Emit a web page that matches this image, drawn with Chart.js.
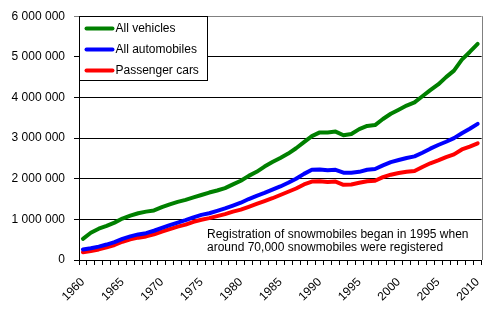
<!DOCTYPE html>
<html>
<head>
<meta charset="utf-8">
<script src="https://cdn.jsdelivr.net/npm/chart.js@4"></script>
<style>
  html, body { margin: 0; padding: 0; background: #fff; }
  #wrap { width: 498px; height: 322px; position: relative; }
</style>
</head>
<body>
<div id="wrap"><canvas id="chart"></canvas></div>
<script>
// Data (in units of vehicles)
const years = [];
for (let y = 1960; y <= 2010; y++) years.push(String(y));

const allVehicles = [
  0.52, 0.67, 0.77, 0.84, 0.92, 1.02, 1.09, 1.15, 1.19, 1.22,
  1.30, 1.37, 1.43, 1.48, 1.54, 1.60, 1.66, 1.71, 1.77, 1.86,
  1.95, 2.07, 2.17, 2.30, 2.41, 2.51, 2.62, 2.75, 2.90, 3.05,
  3.14, 3.14, 3.16, 3.07, 3.10, 3.22, 3.30, 3.32, 3.47, 3.60,
  3.70, 3.80, 3.88, 4.03, 4.18, 4.32, 4.50, 4.66, 4.93, 5.12, 5.32
].map(v => Math.round(v * 1e6));

const allAutomobiles = [
  0.26, 0.29, 0.33, 0.38, 0.44, 0.52, 0.58, 0.63, 0.66, 0.72,
  0.79, 0.86, 0.92, 0.98, 1.05, 1.11, 1.15, 1.21, 1.27, 1.34,
  1.41, 1.50, 1.58, 1.65, 1.73, 1.81, 1.90, 2.00, 2.12, 2.22,
  2.23, 2.21, 2.22, 2.15, 2.15, 2.17, 2.22, 2.24, 2.33, 2.41,
  2.46, 2.51, 2.55, 2.64, 2.74, 2.83, 2.91, 3.00, 3.12, 3.23, 3.35
].map(v => Math.round(v * 1e6));

const passengerCars = [
  0.19, 0.22, 0.26, 0.31, 0.37, 0.45, 0.51, 0.55, 0.58, 0.63,
  0.70, 0.76, 0.82, 0.87, 0.94, 0.99, 1.03, 1.08, 1.13, 1.19,
  1.24, 1.31, 1.38, 1.45, 1.52, 1.60, 1.68, 1.76, 1.86, 1.93,
  1.94, 1.92, 1.93, 1.85, 1.86, 1.90, 1.94, 1.95, 2.04, 2.10,
  2.14, 2.17, 2.19, 2.29, 2.38, 2.45, 2.53, 2.60, 2.72, 2.79, 2.87
].map(v => Math.round(v * 1e6));

const seriesNames = ['All vehicles', 'All automobiles', 'Passenger cars'];
const seriesColors = ['#008000', '#0000ff', '#ff0000'];
const noteLines = [
  'Registration of snowmobiles began in 1995 when',
  'around 70,000 snowmobiles were registered'
];

const FONT = 'Arial, "Liberation Sans", sans-serif';

function spaced(v) {
  return String(v).replace(/\B(?=(\d{3})+(?!\d))/g, ' ');
}

// Legend box inside the plot, right border and the note
const extras = {
  id: 'extras',
  afterDatasetsDraw(chart) {
    const ctx = chart.ctx;
    const a = chart.chartArea;
    ctx.save();

    // right border of the plot area (grey)
    ctx.strokeStyle = '#808080';
    ctx.lineWidth = 1;
    ctx.beginPath();
    ctx.moveTo(Math.round(a.right) + 0.5, a.top);
    ctx.lineTo(Math.round(a.right) + 0.5, a.bottom);
    ctx.stroke();

    // legend
    const lx = Math.round(a.left) + 0.5, ly = Math.round(a.top) + 0.5;
    ctx.fillStyle = '#fff';
    ctx.fillRect(lx, ly, 128, 64);
    ctx.strokeStyle = '#000';
    ctx.strokeRect(lx, ly, 128, 64);
    ctx.font = '12px ' + FONT;
    ctx.textBaseline = 'middle';
    chart.data.datasets.forEach((ds, i) => {
      const cy = ly + 12 + i * 21;
      ctx.strokeStyle = ds.borderColor;
      ctx.lineWidth = 4;
      ctx.lineCap = 'round';
      ctx.beginPath();
      ctx.moveTo(lx + 7, cy);
      ctx.lineTo(lx + 33, cy);
      ctx.stroke();
      ctx.fillStyle = '#000';
      ctx.fillText(ds.label, lx + 36, cy);
    });

    // note
    ctx.fillStyle = '#000';
    ctx.textAlign = 'left';
    noteLines.forEach((t, i) => {
      ctx.fillText(t, a.left + 128, a.bottom - 25 + i * 13);
    });
    ctx.restore();
  }
};

const ctx = document.getElementById('chart').getContext('2d');
new Chart(ctx, {
  type: 'line',
  data: {
    labels: years,
    datasets: [
      { label: seriesNames[0], data: allVehicles, borderColor: seriesColors[0] },
      { label: seriesNames[1], data: allAutomobiles, borderColor: seriesColors[1] },
      { label: seriesNames[2], data: passengerCars, borderColor: seriesColors[2] }
    ].map(d => Object.assign(d, {
      borderWidth: 4,
      pointRadius: 0,
      tension: 0,
      fill: false,
      borderCapStyle: 'round',
      borderJoinStyle: 'round'
    }))
  },
  options: {
    responsive: true,
    maintainAspectRatio: false,
    animation: false,
    layout: { padding: { left: 0, right: 15, top: 16, bottom: 0 } },
    plugins: {
      legend: { display: false },
      tooltip: { enabled: false }
    },
    scales: {
      x: {
        offset: true,
        grid: {
          offset: true,
          drawOnChartArea: false,
          drawTicks: true,
          tickLength: 5,
          color: '#000'
        },
        border: { color: '#000', width: 1 },
        ticks: {
          autoSkip: false,
          minRotation: 45,
          maxRotation: 45,
          padding: 10,
          color: '#000',
          font: { family: FONT, size: 12 },
          callback: function (val, i) {
            const lab = this.getLabelForValue(val);
            return Number(lab) % 5 === 0 ? lab : '';
          }
        },
        afterFit(scale) { scale.height = 62; }
      },
      y: {
        min: 0,
        max: 6000000,
        grid: {
          color: c => c.tick && c.tick.value === 6000000 ? '#808080' : '#000',
          tickLength: 5,
          drawTicks: true
        },
        border: { color: '#000', width: 1 },
        ticks: {
          stepSize: 1000000,
          padding: 9,
          color: '#000',
          font: { family: FONT, size: 12 },
          callback: v => spaced(v)
        },
        afterFit(scale) { scale.width = 79; }
      }
    }
  },
  plugins: [extras]
});
</script>
</body>
</html>
